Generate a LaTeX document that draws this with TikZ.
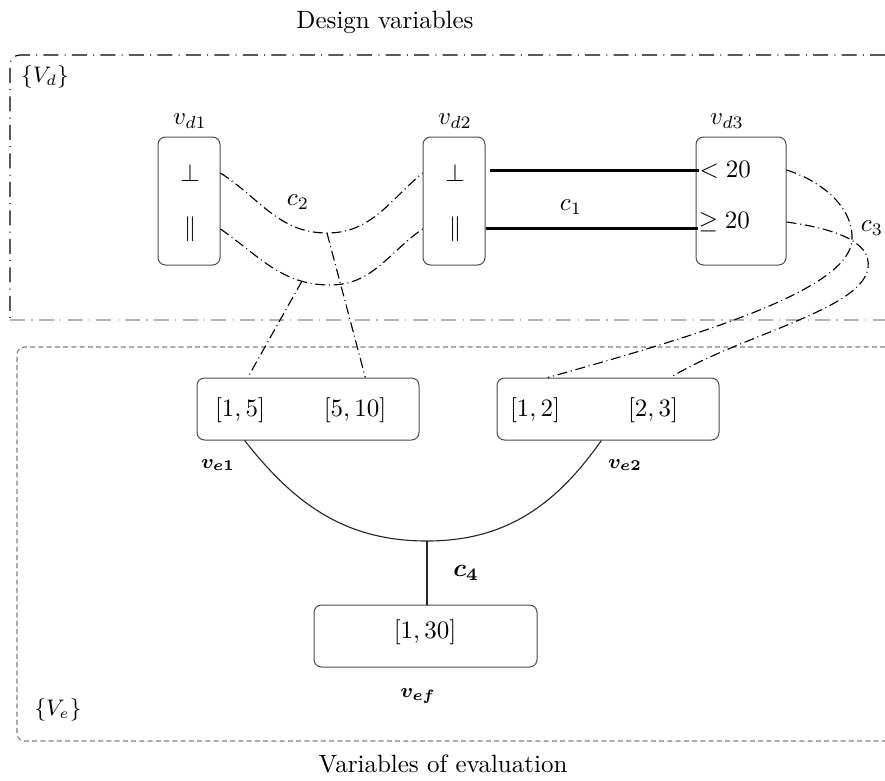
\documentclass[tikz,border=0pt]{standalone}
\usepackage{amsmath,bm}
\usetikzlibrary{calc}
\begin{document}
\begin{tikzpicture}[x=0.4pt,y=-0.4pt,
  box/.style={draw=black!70, rounded corners=3pt, inner sep=0pt},
  dd/.style={line width=0.45pt, dash pattern=on 4pt off 1.5pt on 0.4pt off 1.5pt},
  conn/.style={line width=0.45pt, black!85},
  txt/.style={inner sep=0pt}]
\useasboundingbox (0,0) rectangle (885,780);
% regions
\draw[line width=0.45pt, dash pattern=on 6pt off 2.5pt on 0.4pt off 2.5pt, rounded corners=4pt] (885,55) -- (10,55) -- (10,320);
\draw[gray!60, line width=1pt, dash pattern=on 6pt off 2.5pt on 0.5pt off 2.5pt] (10,320) -- (885,320);
\draw[gray, line width=0.45pt, dash pattern=on 2pt off 1.3pt, rounded corners=3pt] (885,347) -- (17,347) -- (17,741) -- (885,741);
\node[txt] (tdes) at (385,22) {Design variables};
\node[txt] (tev) at (443,764) {Variables of evaluation};
\node[txt] (Vd) at (45,77) {\small$\{V_d\}$};
\node[txt] (Ve) at (58,710) {\small$\{V_e\}$};
% design variable boxes
\node[box, minimum width=24.8pt, minimum height=51.2pt] (vd1) at (189,201) {};
\node[box, minimum width=24.8pt, minimum height=51.2pt] (vd2) at (454,201) {};
\node[box, minimum width=36pt, minimum height=51.2pt] (vd3) at (741,201) {};
\node[txt] (lvd1) at (190,121) {$v_{d1}$};
\node[txt] (lvd2) at (455,121) {$v_{d2}$};
\node[txt] (lvd3) at (727,121) {$v_{d3}$};
\node[txt] (vd1a) at (190,173) {$\perp$};
\node[txt] (vd1b) at (190,229) {$\parallel$};
\node[txt] (vd2a) at (455,173) {$\perp$};
\node[txt] (vd2b) at (455,229) {$\parallel$};
\node[txt, anchor=west] (vd3a) at (699,170) {$<20$};
\node[txt, anchor=west] (vd3b) at (698,222) {$\geq 20$};
% evaluation boxes
\node[box, minimum width=88.8pt, minimum height=24.8pt] (ve1) at (308,409) {};
\node[box, minimum width=88.8pt, minimum height=24.8pt] (ve2) at (608,409) {};
\node[box, minimum width=89.2pt, minimum height=24.8pt] (vef) at (425.5,636) {};
\node[txt] (ve1a) at (240,410) {$[1,5]$};
\node[txt] (ve1b) at (355,410) {$[5,10]$};
\node[txt] (ve2a) at (535,410) {$[1,2]$};
\node[txt] (ve2b) at (653,410) {$[2,3]$};
\node[txt] (vefa) at (425,632) {$[1,30]$};
\node[txt] (lve1) at (218,465) {\footnotesize$\bm{v_{e1}}$};
\node[txt] (lve2) at (625,465) {\footnotesize$\bm{v_{e2}}$};
\node[txt] (lvef) at (418,696) {\footnotesize$\bm{v_{ef}}$};
% c1
\draw[line width=1.2pt] ($(vd3a.west -| vd2.east)+(4,0)$) -- (vd3a.west);
\draw[line width=1.2pt] (vd3b.base west -| vd2.east) -- (vd3b.base west);
\node[txt] (c1) at (571,207) {$c_1$};
% c2
\coordinate (m1) at (327,233);
\coordinate (m2) at (330,285);
\coordinate (m2a) at (302,281);
\draw[dd] (vd1a -| vd1.east) to[out=-33,in=180] (m1) to[out=0,in=-140] (vd2a -| vd2.west);
\draw[dd] (vd1b -| vd1.east) to[out=-35,in=180] (m2) to[out=0,in=-145] (vd2b -| vd2.west);
\draw[dd] (m1) -- ($(ve1.north west)!0.757!(ve1.north east)$);
\draw[dd] (m2a) -- ($(ve1.north west)!0.23!(ve1.north east)$);
\node[txt] (c2) at (298,202) {$c_2$};
% c3
\coordinate (m3) at (852,240);
\draw[dd] (vd3a -| vd3.east) .. controls (825,182) and (854,210) .. (m3) .. controls (849,290) and (700,335) .. ($(ve2.north west)!0.23!(ve2.north east)$);
\coordinate (m4) at (868,268);
\draw[dd] (vd3b -| vd3.east) .. controls (830,228) and (872,240) .. (m4) .. controls (862,310) and (740,335) .. ($(ve2.north west)!0.78!(ve2.north east)$);
\node[txt] (c3) at (872,228) {$c_3$};
% c4
\coordinate (j4) at (427,541);
\draw[conn] ($(ve1.south west)!0.216!(ve1.south east)$) to[out=-52,in=180] (j4) to[out=0,in=-125] ($(ve2.south west)!0.47!(ve2.south east)$);
\draw[conn] (j4) -- (j4 |- vef.north);
\node[txt] (c4) at (466,573) {$\bm{c_4}$};
\end{tikzpicture}
\end{document}
